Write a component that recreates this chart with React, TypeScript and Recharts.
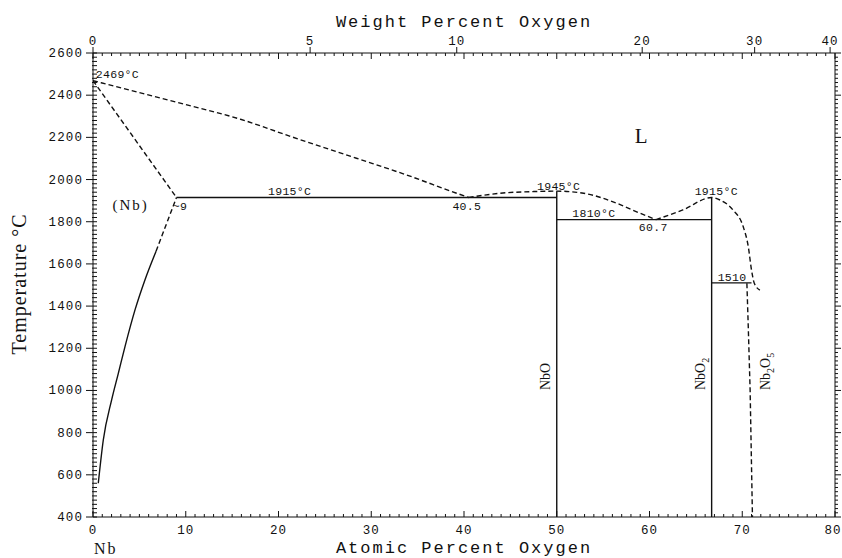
import React from "react";
import { ComposedChart, Line, Scatter, XAxis, YAxis } from "recharts";

// Nb–O phase diagram: atomic % O on x, temperature (°C) on y.

const CHART_W = 842;
const CHART_H = 558;
const LEFT_AXIS_W = 80;
const RIGHT_AXIS_W = 7;
const TOP_AXIS_H = 53;
const BOTTOM_AXIS_H = 41;
const MARGIN = { top: 0, right: 0, bottom: 0, left: 13 };

const PLOT_LEFT = MARGIN.left + LEFT_AXIS_W;
const PLOT_RIGHT = CHART_W - MARGIN.right - RIGHT_AXIS_W;
const PLOT_TOP = MARGIN.top + TOP_AXIS_H;
const PLOT_BOTTOM = CHART_H - MARGIN.bottom - BOTTOM_AXIS_H;

const INK = "#111";

// tick labels
const ATOMIC_TICKS = [0, 10, 20, 30, 40, 50, 60, 70, 80];
const WEIGHT_TICKS = [0, 5, 10, 20, 30, 40];
const TEMP_TICKS = [400, 600, 800, 1000, 1200, 1400, 1600, 1800, 2000, 2200, 2400, 2600];

// phase boundaries (atomic % O, °C)
const LIQ_NB_X = [0, 9.4, 15.9, 21.2, 28.4, 33.8, 39.2, 40.5];
const LIQ_NB_T = [2469, 2362, 2286, 2206, 2101, 2022, 1935, 1915];

const SOLIDUS_X = [0, 9];
const SOLIDUS_T = [2469, 1915];

const SOLVUS_HI_X = [6.8, 9];
const SOLVUS_HI_T = [1660, 1915];
const SOLVUS_LO_X = [0.57, 1.11, 2.01, 2.73, 3.45, 4.53, 5.6, 6.8];
const SOLVUS_LO_T = [560, 765, 955, 1081, 1208, 1382, 1524, 1660];

const EUT_1915_X = [9, 50];
const EUT_1915_T = [1915, 1915];

const LIQ_NBO_X = [40.5, 43.9, 47.5, 50, 52.9, 56.5, 59, 60.7];
const LIQ_NBO_T = [1915, 1935, 1943, 1945, 1935, 1887, 1840, 1810];

const EUT_1810_X = [50, 66.7];
const EUT_1810_T = [1810, 1810];

const LIQ_NBO2_X = [60.7, 63.6, 66.7, 67.6, 69.0, 70.1, 70.65, 71.0, 71.3, 71.9];
const LIQ_NBO2_T = [1810, 1856, 1915, 1903, 1856, 1777, 1682, 1571, 1508, 1476];

const EUT_1510_X = [66.7, 71.0];
const EUT_1510_T = [1510, 1510];

const NBO_X = [50, 50];
const NBO_T = [400, 1945];
const NBO2_X = [66.7, 66.7];
const NBO2_T = [400, 1915];
const NB2O5_X = [70.5, 70.65, 70.85, 71.1];
const NB2O5_T = [1508, 1300, 1000, 400];

const zip = (xs: number[], ts: number[]) => xs.map((x, i) => ({ x, t: ts[i] }));

const SERIES = [
  { key: "liqNb", data: zip(LIQ_NB_X, LIQ_NB_T), dashed: true, curve: "monotone" },
  { key: "solidus", data: zip(SOLIDUS_X, SOLIDUS_T), dashed: true, curve: "linear" },
  { key: "solvusHi", data: zip(SOLVUS_HI_X, SOLVUS_HI_T), dashed: true, curve: "linear" },
  { key: "solvusLo", data: zip(SOLVUS_LO_X, SOLVUS_LO_T), dashed: false, curve: "monotone" },
  { key: "eut1915", data: zip(EUT_1915_X, EUT_1915_T), dashed: false, curve: "linear" },
  { key: "liqNbO", data: zip(LIQ_NBO_X, LIQ_NBO_T), dashed: true, curve: "monotone" },
  { key: "eut1810", data: zip(EUT_1810_X, EUT_1810_T), dashed: false, curve: "linear" },
  { key: "liqNbO2", data: zip(LIQ_NBO2_X, LIQ_NBO2_T), dashed: true, curve: "monotone" },
  { key: "eut1510", data: zip(EUT_1510_X, EUT_1510_T), dashed: false, curve: "linear" },
  { key: "nbo", data: zip(NBO_X, NBO_T), dashed: false, curve: "linear" },
  { key: "nbo2", data: zip(NBO2_X, NBO2_T), dashed: false, curve: "linear" },
  { key: "nb2o5", data: zip(NB2O5_X, NB2O5_T), dashed: true, curve: "linear" },
];

// labels placed in data coordinates
const NOTES = [
  { text: "2469°C", x: 0.3, t: 2481, kind: "note", anchor: "start" },
  { text: "(Nb)", x: 2.1, t: 1856, kind: "phase", anchor: "start" },
  { text: "~9", x: 8.6, t: 1856, kind: "note", anchor: "start" },
  { text: "1915°C", x: 21.2, t: 1925, kind: "note", anchor: "middle" },
  { text: "40.5", x: 40.3, t: 1856, kind: "note", anchor: "middle" },
  { text: "1945°C", x: 50.2, t: 1950, kind: "note", anchor: "middle" },
  { text: "1810°C", x: 54.0, t: 1822, kind: "note", anchor: "middle" },
  { text: "60.7", x: 60.4, t: 1756, kind: "note", anchor: "middle" },
  { text: "1915°C", x: 67.2, t: 1927, kind: "note", anchor: "middle" },
  { text: "1510", x: 68.9, t: 1519, kind: "note", anchor: "middle" },
  { text: "L", x: 59.1, t: 2173, kind: "big", anchor: "middle" },
  { text: "NbO", x: 49.25, t: 1002, kind: "formula", anchor: "start" },
  { text: "NbO2", x: 65.95, t: 1002, kind: "formula", anchor: "start" },
  { text: "Nb2O5", x: 72.95, t: 1002, kind: "formula", anchor: "start" },
];

const MONO = "'Liberation Mono', 'DejaVu Sans Mono', monospace";
const SERIF = "'Liberation Serif', 'DejaVu Serif', serif";

const NOTE_STYLE: Record<string, any> = {
  note: { fontFamily: MONO, fontSize: 11.5, letterSpacing: 0.3 },
  phase: { fontFamily: SERIF, fontSize: 15, letterSpacing: 2 },
  big: { fontFamily: SERIF, fontSize: 21 },
  formula: { fontFamily: SERIF, fontSize: 14 },
};

const TICK_FONT = { fontFamily: MONO, fontSize: 12.5, letterSpacing: 1.1, fill: INK };

// weight % O -> atomic % O
const M_NB = 92.906;
const M_O = 15.999;
function atomicFromWeight(w: number) {
  const o = w / M_O;
  const nb = (100 - w) / M_NB;
  return (o / (o + nb)) * 100;
}
const WEIGHT_POS = WEIGHT_TICKS.map(atomicFromWeight);

const range = (from: number, to: number, step: number) => {
  const out: number[] = [];
  for (let v = from; v <= to + 1e-9; v += step) out.push(v);
  return out;
};
const ATOMIC_MINOR = range(0, 80, 1);
const TEMP_MINOR = range(400, 2600, 20);
// bottom axis carries the atomic ticks plus the weight-% positions (drawn along the top edge)
const X_TICKS = Array.from(new Set([...ATOMIC_MINOR, ...WEIGHT_POS])).sort((a, b) => a - b);

function XTick(props: any) {
  const { x, payload } = props;
  const v = payload.value;
  const isAtomic = Number.isInteger(v);
  const major = ATOMIC_TICKS.includes(v);
  const wi = WEIGHT_POS.findIndex((p) => Math.abs(p - v) < 1e-6);
  const len = major ? 6 : 3;
  return (
    <g>
      {isAtomic && (
        <line x1={x} x2={x} y1={PLOT_BOTTOM} y2={PLOT_BOTTOM - len} stroke={INK} strokeWidth={1} />
      )}
      {isAtomic && (
        <line x1={x} x2={x} y1={PLOT_TOP} y2={PLOT_TOP + len} stroke={INK} strokeWidth={1} />
      )}
      {major && (
        <text x={Math.min(x, CHART_W - 9)} y={PLOT_BOTTOM + 17} textAnchor="middle" {...TICK_FONT}>
          {v}
        </text>
      )}
      {wi >= 0 && <line x1={x} x2={x} y1={PLOT_TOP} y2={PLOT_TOP - 6} stroke={INK} strokeWidth={1} />}
      {wi >= 0 && (
        <text x={x} y={PLOT_TOP - 8} textAnchor="middle" {...TICK_FONT}>
          {WEIGHT_TICKS[wi]}
        </text>
      )}
    </g>
  );
}

function YTick(props: any) {
  const { y, payload } = props;
  const v = payload.value;
  const major = TEMP_TICKS.includes(v);
  return (
    <g>
      <line
        x1={major ? PLOT_LEFT - 7 : PLOT_LEFT - 1}
        x2={PLOT_LEFT + 4}
        y1={y}
        y2={y}
        stroke={INK}
        strokeWidth={1}
      />
      <line x1={PLOT_RIGHT} x2={PLOT_RIGHT + (major ? 6 : 3)} y1={y} y2={y} stroke={INK} strokeWidth={1} />
      {major && (
        <text x={PLOT_LEFT - 10} y={y + 4} textAnchor="end" {...TICK_FONT}>
          {v}
        </text>
      )}
    </g>
  );
}

// digits in chemical formulas become subscripts
function formulaParts(text: string) {
  const parts = text.match(/[A-Za-z]+|\d+/g) || [];
  let shifted = false;
  return parts.map((p, i) => {
    const isSub = /\d/.test(p);
    const dy = isSub && !shifted ? 4 : !isSub && shifted ? -4 : 0;
    shifted = isSub;
    return (
      <tspan key={i} dy={dy} fontSize={isSub ? 10 : undefined}>
        {p}
      </tspan>
    );
  });
}

function renderNote(props: any) {
  const { cx, cy, payload } = props;
  if (cx == null || cy == null) return <g />;
  const style = NOTE_STYLE[payload.kind];
  if (payload.kind === "formula") {
    return (
      <text
        x={cx}
        y={cy}
        textAnchor="start"
        fill={INK}
        {...style}
        transform={`rotate(-90 ${cx} ${cy})`}
      >
        {formulaParts(payload.text)}
      </text>
    );
  }
  return (
    <text x={cx} y={cy} textAnchor={payload.anchor} fill={INK} {...style}>
      {payload.text}
    </text>
  );
}

function TopTitle() {
  return (
    <text
      x={(PLOT_LEFT + PLOT_RIGHT) / 2}
      y={27}
      textAnchor="middle"
      fontFamily={MONO}
      fontSize={17}
      letterSpacing={2}
      fill={INK}
    >
      Weight Percent Oxygen
    </text>
  );
}

function BottomTitle() {
  return (
    <g>
      <text
        x={(PLOT_LEFT + PLOT_RIGHT) / 2}
        y={PLOT_BOTTOM + 36}
        textAnchor="middle"
        fontFamily={MONO}
        fontSize={17}
        letterSpacing={2}
        fill={INK}
      >
        Atomic Percent Oxygen
      </text>
      <text x={PLOT_LEFT + 1} y={PLOT_BOTTOM + 37} fontFamily={SERIF} fontSize={16} letterSpacing={2} fill={INK}>
        Nb
      </text>
    </g>
  );
}

function LeftTitle() {
  const x = 26;
  const y = 284;
  return (
    <text
      x={x}
      y={y}
      textAnchor="middle"
      fontFamily={SERIF}
      fontSize={20}
      letterSpacing={1}
      fill={INK}
      transform={`rotate(-90 ${x} ${y})`}
    >
      Temperature °C
    </text>
  );
}

export default function App() {
  return (
    <div style={{ position: "absolute", left: 0, top: 0, background: "#fff" }}>
      <ComposedChart width={CHART_W} height={CHART_H} margin={MARGIN}>
        <XAxis
          xAxisId="bottom"
          dataKey="x"
          type="number"
          domain={[0, 80]}
          ticks={X_TICKS}
          interval={0}
          tick={(p: any) => <XTick {...p} />}
          tickLine={false}
          height={BOTTOM_AXIS_H}
          axisLine={{ stroke: INK }}
          allowDataOverflow
          label={() => <BottomTitle />}
        />
        <XAxis
          xAxisId="top"
          orientation="top"
          type="number"
          domain={[0, 80]}
          tick={false}
          tickLine={false}
          height={TOP_AXIS_H}
          axisLine={{ stroke: INK }}
          allowDataOverflow
          label={() => <TopTitle />}
        />
        <YAxis
          yAxisId="left"
          dataKey="t"
          type="number"
          domain={[400, 2600]}
          ticks={TEMP_MINOR}
          interval={0}
          tick={(p: any) => <YTick {...p} />}
          tickLine={false}
          width={LEFT_AXIS_W}
          axisLine={{ stroke: INK }}
          allowDataOverflow
          label={() => <LeftTitle />}
        />
        <YAxis
          yAxisId="right"
          orientation="right"
          type="number"
          domain={[400, 2600]}
          tick={false}
          tickLine={false}
          width={RIGHT_AXIS_W}
          axisLine={{ stroke: INK }}
          allowDataOverflow
        />
        {SERIES.map((s) => (
          <Line
            key={s.key}
            xAxisId="bottom"
            yAxisId="left"
            data={s.data}
            dataKey="t"
            type={s.curve as any}
            stroke={INK}
            strokeWidth={1.4}
            strokeDasharray={s.dashed ? "5 3" : undefined}
            dot={false}
            activeDot={false}
            isAnimationActive={false}
          />
        ))}
        <Scatter
          xAxisId="bottom"
          yAxisId="left"
          data={NOTES}
          dataKey="t"
          shape={renderNote}
          isAnimationActive={false}
        />
      </ComposedChart>
    </div>
  );
}
